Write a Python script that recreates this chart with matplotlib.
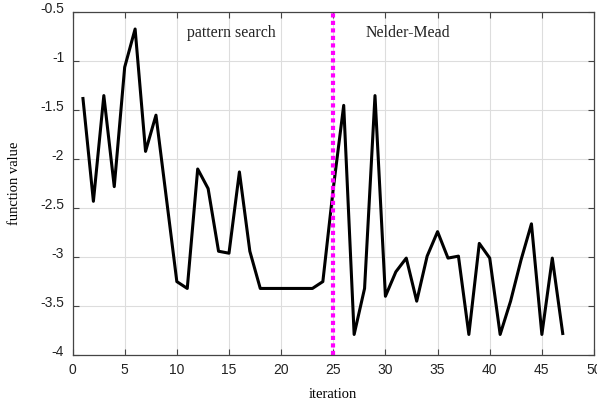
import numpy as np
import matplotlib.pyplot as plt
import matplotlib.transforms as mtransforms

# iteration values
iterations = np.arange(1, 48)
fvals = [-1.38, -2.43, -1.35, -2.28, -1.06, -0.67, -1.92, -1.55, -2.40, -3.25,
         -3.32, -2.10, -2.30, -2.94, -2.96, -2.13, -2.94, -3.32, -3.32, -3.32,
         -3.32, -3.32, -3.32, -3.25, -2.30, -1.45, -3.79, -3.32, -1.35, -3.40,
         -3.15, -3.01, -3.45, -2.99, -2.74, -3.01, -2.99, -3.79, -2.86, -3.01,
         -3.79, -3.45, -3.03, -2.66, -3.79, -3.01, -3.78]
switch_iter = 25
phase_labels = ['pattern search', 'Nelder-Mead']
phase_label_x = [15.2, 32.2]
phase_label_y = -0.71

xticks = np.arange(0, 51, 5)
yticks = np.arange(-4, -0.49, 0.5)
ytick_labels = ['-4', '-3.5', '-3', '-2.5', '-2', '-1.5', '-1', '-0.5']

fig = plt.figure(figsize=(5.97, 4.12), dpi=100)
ax = fig.add_axes([0.1215, 0.1383, 0.8735, 0.8317])

ax.plot(iterations, fvals, color='black', linewidth=2.2)
ax.axvline(switch_iter, color='#ff00ff', linestyle=(0, (1, 0.8)), linewidth=3)

for lbl, lx in zip(phase_labels, phase_label_x):
    ax.text(lx, phase_label_y, lbl, ha='center', va='center',
            family='Liberation Serif', fontsize=11.4, color='#222222')

ax.set_xlim(0, 50)
ax.set_ylim(-4, -0.5)
ax.set_xticks(xticks)
ax.set_yticks(yticks)
ax.set_yticklabels(ytick_labels)
ax.tick_params(direction='in', top=True, right=True, length=4, width=0.8,
               color='#444444', labelsize=10, labelcolor='#222222', pad=6)
for t in ax.get_xticklabels() + ax.get_yticklabels():
    t.set_family('Liberation Sans')
# y tick labels sit a little above their ticks in the reference
shift = mtransforms.ScaledTranslation(0, 5 / 100, fig.dpi_scale_trans)
for t in ax.get_yticklabels():
    t.set_transform(t.get_transform() + shift)
ax.grid(True, color='#dddddd', linewidth=0.8)
for s in ax.spines.values():
    s.set_color('#444444')
    s.set_linewidth(0.9)

ax.set_xlabel('iteration', family='Liberation Serif', fontsize=10.5, labelpad=8)
ax.set_ylabel('function value', family='Liberation Serif', fontsize=10.5, labelpad=14)

fig.savefig('out.png', dpi=100)
